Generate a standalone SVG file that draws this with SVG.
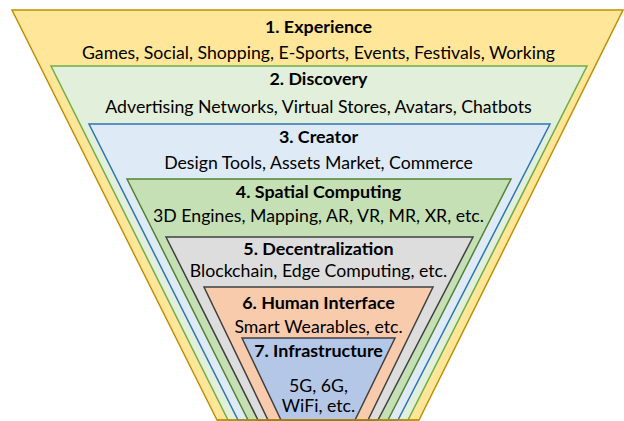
<svg xmlns="http://www.w3.org/2000/svg" width="624" height="421" viewBox="0 0 624 421">
<style>
  .layer { stroke-width: 1.5; stroke-linejoin: miter; }
  .t { font-family: Lato, "Open Sans", "Liberation Sans", sans-serif; font-size: 17.7px; fill: #000; text-anchor: middle; }
  .b { font-weight: bold; font-size: 17.9px; }
</style>
<rect x="0" y="0" width="624" height="421" fill="#ffffff"/>
<g id="layer1">
  <polygon class="layer" points="12,10 623,10 419,420 217,420" fill="#FFE699" stroke="#BF9000"/>
  <text class="t b" x="318.5" y="33">1. Experience</text>
  <text class="t" x="318.5" y="59">Games, Social, Shopping, E-Sports, Events, Festivals, Working</text>
</g>
<g id="layer2">
  <polygon class="layer" points="51,66 587,66 408,420 228,420" fill="#E2EFDA" stroke="#70AD47"/>
  <text class="t b" x="318.5" y="85">2. Discovery</text>
  <text class="t" x="318.5" y="113">Advertising Networks, Virtual Stores, Avatars, Chatbots</text>
</g>
<g id="layer3">
  <polygon class="layer" points="89,124 550,124 398,420 238,420" fill="#DEEBF7" stroke="#2E75B6"/>
  <text class="t b" x="318.5" y="143">3. Creator</text>
  <text class="t" x="318.5" y="169">Design Tools, Assets Market, Commerce</text>
</g>
<g id="layer4">
  <polygon class="layer" points="127,179 511,179 388,420 248,420" fill="#C5E0B4" stroke="#548235"/>
  <text class="t b" x="318.5" y="198">4. Spatial Computing</text>
  <text class="t" x="318.5" y="222">3D Engines, Mapping, AR, VR, MR, XR, etc.</text>
</g>
<g id="layer5">
  <polygon class="layer" points="166,237 473,237 378,420 258,420" fill="#DDDDDD" stroke="#404040"/>
  <text class="t b" x="318.5" y="255">5. Decentralization</text>
  <text class="t" x="318.5" y="277">Blockchain, Edge Computing, etc.</text>
</g>
<g id="layer6">
  <polygon class="layer" points="204,287 433,287 368,420 268,420" fill="#F8CBAD" stroke="#404040"/>
  <text class="t b" x="318.5" y="309">6. Human Interface</text>
  <text class="t" x="318.5" y="333">Smart Wearables, etc.</text>
</g>
<g id="layer7">
  <polygon class="layer" points="242,338 395,338 355,420 281,420" fill="#B4C7E7" stroke="#404040"/>
  <text class="t b" x="318.5" y="357">7. Infrastructure</text>
  <text class="t" x="318.5" y="392">5G, 6G,</text>
  <text class="t" x="318.5" y="412">WiFi, etc.</text>
</g>
<g id="connectors">
  <line x1="217" y1="420" x2="419" y2="420" stroke="#BF9000" stroke-width="1.5"/>
</g>
</svg>
